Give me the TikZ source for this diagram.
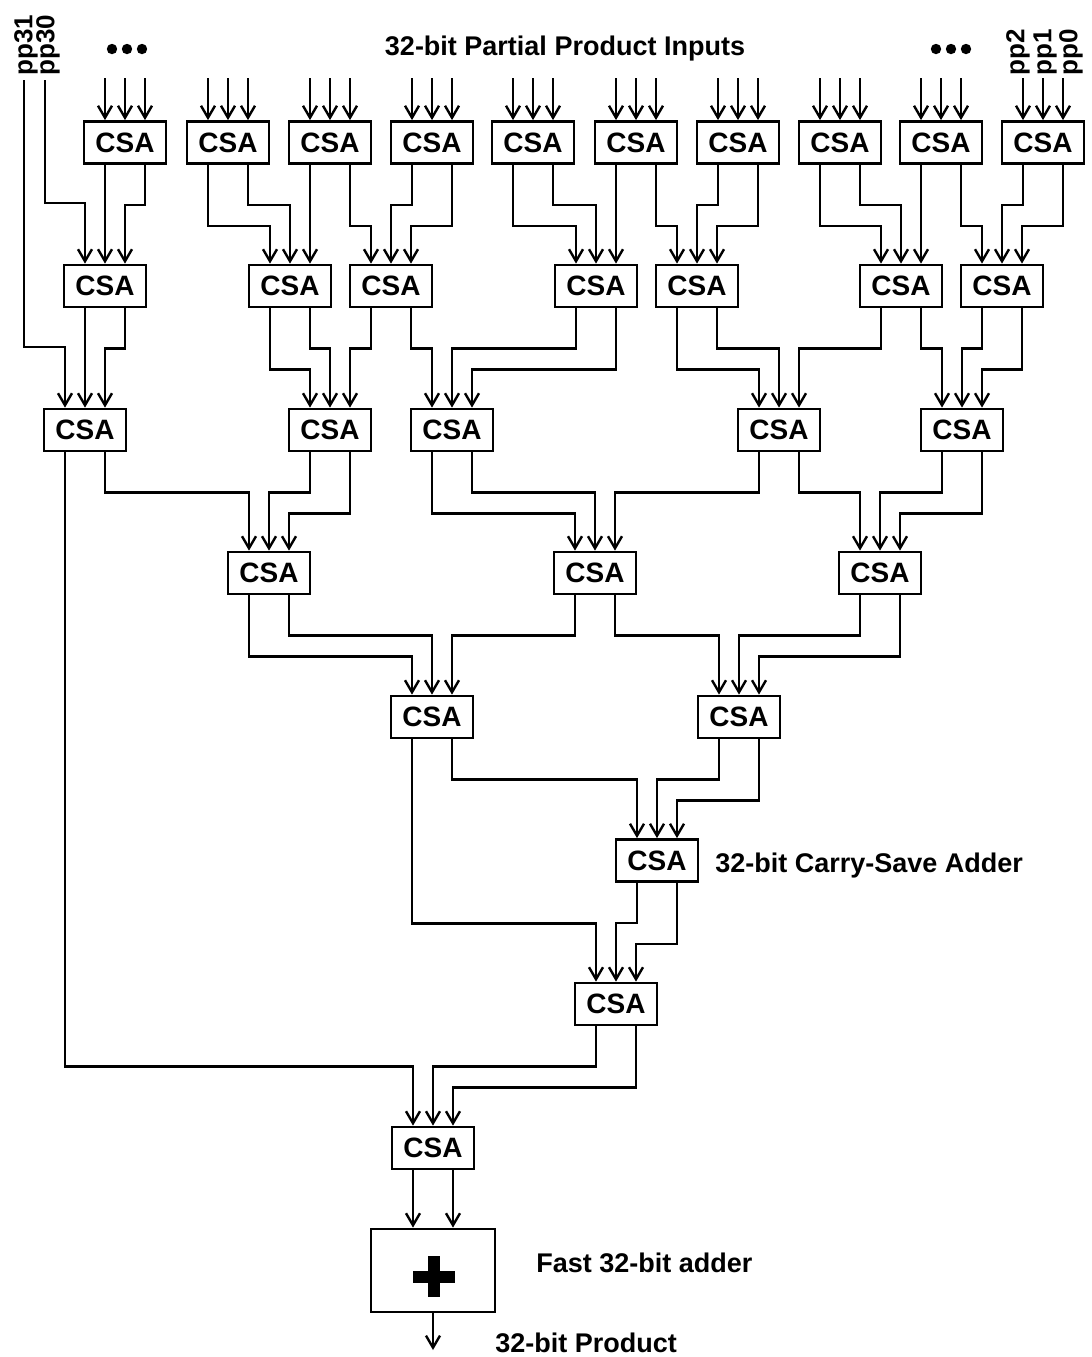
\documentclass[tikz,border=0pt]{standalone}
\usepackage{fontspec}
\setmainfont{Liberation Sans}
\usetikzlibrary{calc,arrows.meta}

\begin{document}
\begin{tikzpicture}[x=0.5pt,y=-0.5pt,
  csa/.style={draw, line width=1.4pt, minimum width=41pt, minimum height=21pt,
    inner sep=0pt, font=\fontsize{14}{16}\selectfont\bfseries},
  wire/.style={line width=1.2pt, -{Straight Barb[length=6pt,width=7pt,line width=1.2pt]}},
  lbl/.style={font=\fontsize{13.5}{16}\selectfont\bfseries, inner sep=0pt},
  pplbl/.style={font=\fontsize{13}{15}\selectfont\bfseries, inner sep=0pt, rotate=90, anchor=west}]

\useasboundingbox (0,0) rectangle (1092,1357);

% Distanze dei tratti orizzontali sotto ogni blocco
\def\hi{40}
\def\lo{61}

% Titolo
\node[lbl, anchor=base] (title) at (565,55) {32-bit Partial Product Inputs};

% Etichette degli ingressi
\node[pplbl] (l31) at (26,76) {pp31};
\node[pplbl] (l30) at (48,76) {pp30};
\node[pplbl] (l2) at (1018,76) {pp2};
\node[pplbl] (l1) at (1045,76) {pp1};
\node[pplbl] (l0) at (1071,76) {pp0};

% Puntini
\fill (112,49) circle (2.6pt);
\fill (127,49) circle (2.6pt);
\fill (142,49) circle (2.6pt);
\fill (936,49) circle (2.6pt);
\fill (951,49) circle (2.6pt);
\fill (966,49) circle (2.6pt);

% Livello 1
\node[csa] (A1) at (125,142.5) {CSA};
\node[csa] (A2) at (228,142.5) {CSA};
\node[csa] (A3) at (330,142.5) {CSA};
\node[csa] (A4) at (432,142.5) {CSA};
\node[csa] (A5) at (533,142.5) {CSA};
\node[csa] (A6) at (636,142.5) {CSA};
\node[csa] (A7) at (738,142.5) {CSA};
\node[csa] (A8) at (840,142.5) {CSA};
\node[csa] (A9) at (941,142.5) {CSA};
\node[csa] (A10) at (1043,142.5) {CSA};

% Livello 2
\node[csa] (B1) at (105,286) {CSA};
\node[csa] (B2) at (290,286) {CSA};
\node[csa] (B3) at (391,286) {CSA};
\node[csa] (B4) at (596,286) {CSA};
\node[csa] (B5) at (697,286) {CSA};
\node[csa] (B6) at (901,286) {CSA};
\node[csa] (B7) at (1002,286) {CSA};

% Livello 3
\node[csa] (C1) at (85,430) {CSA};
\node[csa] (C2) at (330,430) {CSA};
\node[csa] (C3) at (452,430) {CSA};
\node[csa] (C4) at (779,430) {CSA};
\node[csa] (C5) at (962,430) {CSA};

% Livello 4
\node[csa] (D1) at (269,573) {CSA};
\node[csa] (D2) at (595,573) {CSA};
\node[csa] (D3) at (880,573) {CSA};

% Livelli 5-8
\node[csa] (E1) at (432,717) {CSA};
\node[csa] (E2) at (739,717) {CSA};
\node[csa] (F) at (657,860.5) {CSA};
\node[csa] (G) at (616,1004) {CSA};
\node[csa] (H) at (433,1148) {CSA};

% Sommatore veloce
\node[draw, line width=1.4pt, minimum width=62pt, minimum height=41.5pt] (add) at (433,1270.5) {};
\fill ($(add.center)+(-20,0.5)$) rectangle ++(42,12);
\fill ($(add.center)+(-5,-14.5)$) rectangle ++(12,41);

% Didascalie
\node[lbl, anchor=base west] (csalbl) at (715,872) {32-bit Carry-Save Adder};
\node[lbl, anchor=base west] (addlbl) at (536,1272) {Fast 32-bit adder};
\node[lbl, anchor=base west] (outlbl) at (495,1352) {32-bit Product};

% Piedini di ingresso e uscita
\foreach \n in {A1,A2,A3,A4,A5,A6,A7,A8,A9,A10,B1,B2,B3,B4,B5,B6,B7,C1,C2,C3,C4,C5,D1,D2,D3,E1,E2,F,G,H}{
  \coordinate (\n-il) at ($(\n.north)+(-20,0)$);
  \coordinate (\n-im) at (\n.north);
  \coordinate (\n-ir) at ($(\n.north)+(20,0)$);
  \coordinate (\n-ol) at ($(\n.south)+(-20,0)$);
  \coordinate (\n-or) at ($(\n.south)+(20,0)$);
}

% Ingressi dall'alto
\foreach \n in {A1,A2,A3,A4,A5,A6,A7,A8,A9,A10}
  \foreach \p in {il,im,ir}
    \draw[wire] ($(\n-\p)+(0,-42)$) -- (\n-\p);

\coordinate (pp31) at (24,80);
\coordinate (pp30) at (45,80);
\draw[wire] (pp31) -- ++(0,267) -| (C1-il);
\draw[wire] (pp30) -- ++(0,123) -| (B1-il);

% Livello 1 -> 2
\draw[wire] (A1-ol) -- (B1-im);
\draw[wire] (A1-or) -- ++(0,\hi) -| (B1-ir);
\draw[wire] (A2-ol) -- ++(0,\lo) -| (B2-il);
\draw[wire] (A2-or) -- ++(0,\hi) -| (B2-im);
\draw[wire] (A3-ol) -- (B2-ir);
\draw[wire] (A3-or) -- ++(0,\lo) -| (B3-il);
\draw[wire] (A4-ol) -- ++(0,\hi) -| (B3-im);
\draw[wire] (A4-or) -- ++(0,\lo) -| (B3-ir);
\draw[wire] (A5-ol) -- ++(0,\lo) -| (B4-il);
\draw[wire] (A5-or) -- ++(0,\hi) -| (B4-im);
\draw[wire] (A6-ol) -- (B4-ir);
\draw[wire] (A6-or) -- ++(0,\lo) -| (B5-il);
\draw[wire] (A7-ol) -- ++(0,\hi) -| (B5-im);
\draw[wire] (A7-or) -- ++(0,\lo) -| (B5-ir);
\draw[wire] (A8-ol) -- ++(0,\lo) -| (B6-il);
\draw[wire] (A8-or) -- ++(0,\hi) -| (B6-im);
\draw[wire] (A9-ol) -- (B6-ir);
\draw[wire] (A9-or) -- ++(0,\lo) -| (B7-il);
\draw[wire] (A10-ol) -- ++(0,\hi) -| (B7-im);
\draw[wire] (A10-or) -- ++(0,\lo) -| (B7-ir);

% Livello 2 -> 3
\draw[wire] (B1-ol) -- (C1-im);
\draw[wire] (B1-or) -- ++(0,\hi) -| (C1-ir);
\draw[wire] (B2-ol) -- ++(0,\lo) -| (C2-il);
\draw[wire] (B2-or) -- ++(0,\hi) -| (C2-im);
\draw[wire] (B3-ol) -- ++(0,\hi) -| (C2-ir);
\draw[wire] (B3-or) -- ++(0,\hi) -| (C3-il);
\draw[wire] (B4-ol) -- ++(0,\hi) -| (C3-im);
\draw[wire] (B4-or) -- ++(0,\lo) -| (C3-ir);
\draw[wire] (B5-ol) -- ++(0,\lo) -| (C4-il);
\draw[wire] (B5-or) -- ++(0,\hi) -| (C4-im);
\draw[wire] (B6-ol) -- ++(0,\hi) -| (C4-ir);
\draw[wire] (B6-or) -- ++(0,\hi) -| (C5-il);
\draw[wire] (B7-ol) -- ++(0,\hi) -| (C5-im);
\draw[wire] (B7-or) -- ++(0,\lo) -| (C5-ir);

% Livello 3 -> 4
\draw[wire] (C1-ol) -- ++(0,614) -| (H-il);
\draw[wire] (C1-or) -- ++(0,\hi) -| (D1-il);
\draw[wire] (C2-ol) -- ++(0,\hi) -| (D1-im);
\draw[wire] (C2-or) -- ++(0,\lo) -| (D1-ir);
\draw[wire] (C3-ol) -- ++(0,\lo) -| (D2-il);
\draw[wire] (C3-or) -- ++(0,\hi) -| (D2-im);
\draw[wire] (C4-ol) -- ++(0,\hi) -| (D2-ir);
\draw[wire] (C4-or) -- ++(0,\hi) -| (D3-il);
\draw[wire] (C5-ol) -- ++(0,\hi) -| (D3-im);
\draw[wire] (C5-or) -- ++(0,\lo) -| (D3-ir);

% Livello 4 -> 5
\draw[wire] (D1-ol) -- ++(0,\lo) -| (E1-il);
\draw[wire] (D1-or) -- ++(0,\hi) -| (E1-im);
\draw[wire] (D2-ol) -- ++(0,\hi) -| (E1-ir);
\draw[wire] (D2-or) -- ++(0,\hi) -| (E2-il);
\draw[wire] (D3-ol) -- ++(0,\hi) -| (E2-im);
\draw[wire] (D3-or) -- ++(0,\lo) -| (E2-ir);

% Livelli 5 -> 8
\draw[wire] (E1-ol) -- ++(0,184) -| (G-il);
\draw[wire] (E1-or) -- ++(0,\hi) -| (F-il);
\draw[wire] (E2-ol) -- ++(0,\hi) -| (F-im);
\draw[wire] (E2-or) -- ++(0,\lo) -| (F-ir);
\draw[wire] (F-ol) -- ++(0,\hi) -| (G-im);
\draw[wire] (F-or) -- ++(0,\lo) -| (G-ir);
\draw[wire] (G-ol) -- ++(0,\hi) -| (H-im);
\draw[wire] (G-or) -- ++(0,\lo) -| (H-ir);

% Verso il sommatore e uscita
\draw[wire] (H-ol) -- (H-ol |- add.north);
\draw[wire] (H-or) -- (H-or |- add.north);
\coordinate (out) at (433,1350);
\draw[wire] (add.south) -- (out);

\end{tikzpicture}
\end{document}
